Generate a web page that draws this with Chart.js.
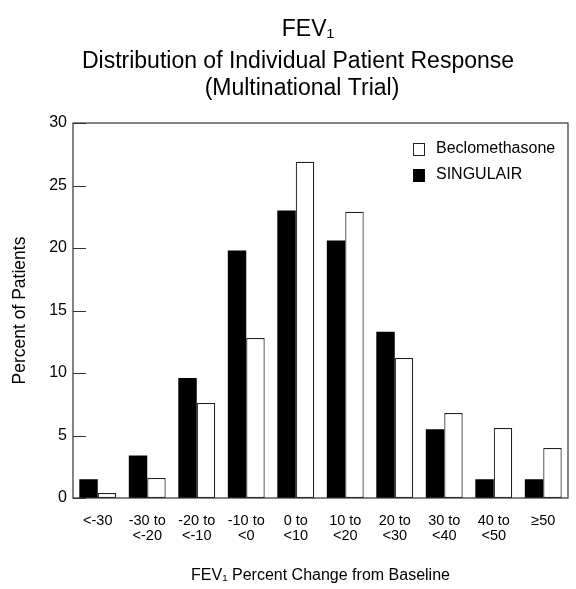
<!DOCTYPE html>
<html><head><meta charset="utf-8">
<script src="https://cdn.jsdelivr.net/npm/chart.js@4/dist/chart.umd.min.js"></script>
<style>html,body{margin:0;padding:0;background:#fff}#wrap{width:576px;height:589px;position:relative}</style>
</head><body><div id="wrap"><canvas id="c"></canvas></div>
<script>
const categories = [['<-30'], ['-30 to', '<-20'], ['-20 to', '<-10'], ['-10 to', '<0'], ['0 to', '<10'], ['10 to', '<20'], ['20 to', '<30'], ['30 to', '<40'], ['40 to', '<50'], ['\u226550']];
const singulair = [1.5, 3.4, 9.6, 19.8, 23.0, 20.6, 13.3, 5.5, 1.5, 1.5];
const beclomethasone = [0.4, 1.6, 7.6, 12.8, 26.9, 22.9, 11.2, 6.8, 5.6, 4.0];
const yTicks = [0, 5, 10, 15, 20, 25, 30];
const titleLines = ['FEV\u2081', 'Distribution of Individual Patient Response', '(Multinational Trial)'];
const xTitle = 'FEV\u2081 Percent Change from Baseline';
const yTitle = 'Percent of Patients';
const seriesNames = ['SINGULAIR', 'Beclomethasone'];

const FONT = "'Liberation Sans', Arial, Helvetica, sans-serif";

const framePlugin = {
  id: 'frame',
  afterDatasetsDraw(chart) {
    const {ctx, chartArea: a} = chart;
    const y = chart.scales.y;
    ctx.save();
    ctx.strokeStyle = '#333';
    ctx.lineWidth = 1.2;
    ctx.strokeRect(a.left, a.top, a.right - a.left, a.bottom - a.top);
    ctx.beginPath();
    yTicks.forEach(v => {
      const py = Math.round(y.getPixelForValue(v)) + 0.5;
      ctx.moveTo(a.left, py);
      ctx.lineTo(a.left + 13, py);
    });
    ctx.stroke();
    ctx.restore();
  }
};

const titlePlugin = {
  id: 'ctitle',
  afterDraw(chart) {
    const {ctx} = chart;
    ctx.save();
    ctx.fillStyle = '#000';
    ctx.font = '23px ' + FONT;
    ctx.textAlign = 'center';
    ctx.textBaseline = 'middle';
    const ys = [30, 62, 89];
    const xs = [308, 298, 302];
    titleLines.forEach((t, i) => ctx.fillText(t, xs[i], ys[i]));
    ctx.restore();
  }
};

const legendPlugin = {
  id: 'clegend',
  afterDraw(chart) {
    const {ctx, chartArea: a} = chart;
    ctx.save();
    ctx.font = '16px ' + FONT;
    ctx.textBaseline = 'middle';
    ctx.textAlign = 'left';
    const ds = chart.data.datasets.slice().reverse();
    ds.forEach((d, i) => {
      const cy = a.top + 26 + i * 26;
      const bx = a.right - 155;
      ctx.fillStyle = d.backgroundColor;
      ctx.fillRect(bx, cy - 6, 12, 13);
      if (d.borderWidth) {
        ctx.strokeStyle = '#222';
        ctx.lineWidth = 1;
        ctx.strokeRect(bx + 0.5, cy - 5.5, 11, 12);
      }
      ctx.fillStyle = '#000';
      ctx.fillText(d.label, bx + 23, cy);
    });
    ctx.restore();
  }
};

new Chart(document.getElementById('c'), {
  type: 'bar',
  data: {
    labels: categories,
    datasets: [
      {label: seriesNames[0], data: singulair, backgroundColor: '#000', borderWidth: 0, categoryPercentage: 0.745, barPercentage: 1.0},
      {label: seriesNames[1], data: beclomethasone, backgroundColor: '#fff', borderColor: '#222', borderWidth: 1.2, borderSkipped: false, categoryPercentage: 0.745, barPercentage: 1.0}
    ]
  },
  options: {
    responsive: true,
    maintainAspectRatio: false,
    animation: false,
    layout: {padding: {top: 123, right: 8, bottom: 0, left: 0}},
    plugins: {legend: {display: false}, tooltip: {enabled: false}, title: {display: false}},
    scales: {
      x: {
        grid: {display: false, drawTicks: false},
        border: {display: false},
        ticks: {color: '#000', font: {family: FONT, size: 14.5, lineHeight: 1.05}, padding: 15, maxRotation: 0, autoSkip: false},
        title: {display: true, text: xTitle, color: '#000', font: {family: FONT, size: 16}, padding: {top: 4, bottom: 4}},
        afterFit(s) { s.height = 91; }
      },
      y: {
        min: 0, max: 30,
        grid: {display: false, drawTicks: false},
        border: {display: false},
        afterBuildTicks(s) { s.ticks = yTicks.map(v => ({value: v})); },
        ticks: {color: '#000', font: {family: FONT, size: 16}, padding: 6},
        title: {display: true, text: yTitle, color: '#000', font: {family: FONT, size: 17.5}, padding: {top: 10, bottom: 4}},
        afterFit(s) { s.width = 73; }
      }
    }
  },
  plugins: [framePlugin, titlePlugin, legendPlugin]
});
</script>
</body></html>
